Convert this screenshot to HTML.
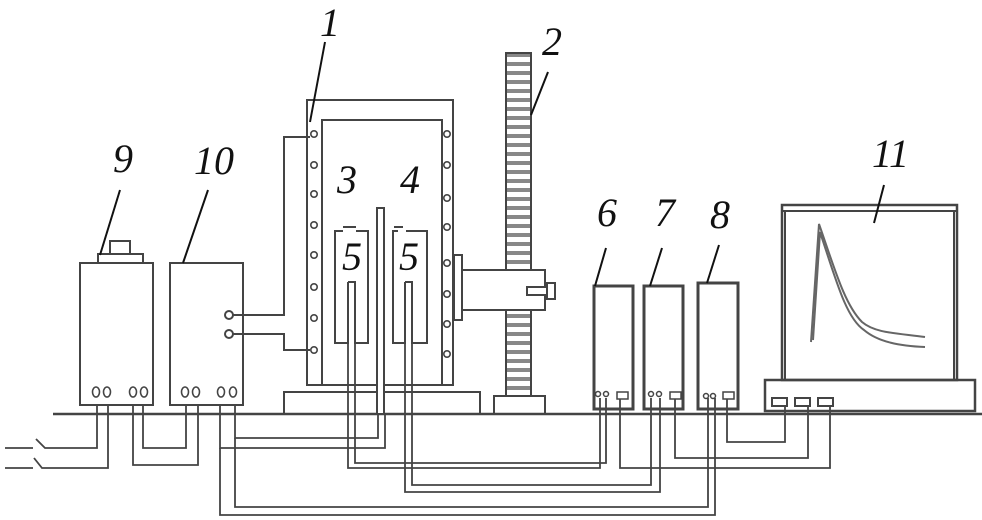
<!DOCTYPE html>
<html><head><meta charset="utf-8"><style>
html,body{margin:0;padding:0;background:#fff;width:982px;height:520px;overflow:hidden}
text{font-family:"Liberation Serif",serif;font-style:italic;font-size:40px;fill:#111}
</style></head><body>
<svg width="982" height="520" viewBox="0 0 982 520" xmlns="http://www.w3.org/2000/svg">
<defs>
<pattern id="rk" x="0" y="53" width="25" height="9" patternUnits="userSpaceOnUse">
<rect width="25" height="9" fill="#fff"/><rect y="0" width="25" height="4" fill="#888"/>
</pattern>
<g id="bolt"><circle r="3.2" fill="#fff" stroke="#444" stroke-width="1.6"/></g>
</defs>
<g fill="none" stroke="#444" stroke-width="2">
<line x1="53" y1="414" x2="982" y2="414" stroke-width="2.5"/>
<rect x="80" y="263" width="73" height="142"/>
<rect x="98" y="254" width="45" height="9"/>
<rect x="110" y="241" width="20" height="13"/>
<rect x="170" y="263" width="73" height="142"/>
<circle cx="229" cy="315" r="4"/><circle cx="229" cy="334" r="4"/>
<g stroke-width="1.6">
<ellipse cx="96" cy="392" rx="3.5" ry="5"/><ellipse cx="107" cy="392" rx="3.5" ry="5"/>
<ellipse cx="133" cy="392" rx="3.5" ry="5"/><ellipse cx="144" cy="392" rx="3.5" ry="5"/>
<ellipse cx="185" cy="392" rx="3.5" ry="5"/><ellipse cx="196" cy="392" rx="3.5" ry="5"/>
<ellipse cx="221" cy="392" rx="3.5" ry="5"/><ellipse cx="233" cy="392" rx="3.5" ry="5"/>
</g>
<polyline points="233,315 284,315 284,137 310,137"/>
<polyline points="233,334 284,334 284,350 310,350"/>
<rect x="307" y="100" width="146" height="285"/>
<rect x="322" y="120" width="120" height="265"/>
<rect x="284" y="392" width="196" height="22"/>
<rect x="377" y="208" width="7" height="206" fill="#fff"/>
<path d="M348,282 V343 H335 V231 H343 M356,231 H368 V343 H355 V282 H348"/>
<line x1="343" y1="227" x2="356" y2="227"/>
<path d="M405,282 V343 H393 V231 H398 M406,231 H427 V343 H412 V282 H405"/>
<line x1="394" y1="227" x2="403" y2="227"/>
<rect x="506" y="53" width="25" height="343" fill="url(#rk)"/>
<rect x="494" y="396" width="51" height="18"/>
<rect x="454" y="255" width="8" height="65" fill="#fff"/>
<rect x="462" y="270" width="83" height="40" fill="#fff"/>
<rect x="527" y="287" width="20" height="8" fill="#fff"/>
<rect x="547" y="283" width="8" height="16" fill="#fff"/>
<rect x="594" y="286" width="39" height="123" stroke-width="3"/>
<rect x="644" y="286" width="39" height="123" stroke-width="3"/>
<rect x="698" y="283" width="40" height="126" stroke-width="3"/>
<g stroke-width="1.5">
<circle cx="598" cy="394" r="2.5"/><circle cx="606" cy="394" r="2.5"/><rect x="617" y="392" width="11" height="7"/>
<circle cx="651" cy="394" r="2.5"/><circle cx="659" cy="394" r="2.5"/><rect x="670" y="392" width="11" height="7"/>
<circle cx="706" cy="396" r="2.5"/><circle cx="713" cy="396" r="2.5"/><rect x="723" y="392" width="11" height="7"/>
</g>
<rect x="782" y="205" width="175" height="175" stroke-width="2.5"/>
<line x1="782" y1="211" x2="957" y2="211"/>
<line x1="785" y1="211" x2="785" y2="380"/><line x1="954" y1="211" x2="954" y2="380"/>
<rect x="765" y="380" width="210" height="31" stroke-width="2.5"/>
<rect x="772" y="398" width="15" height="8"/><rect x="795" y="398" width="15" height="8"/><rect x="818" y="398" width="15" height="8"/>
<path d="M811,342 L819,224 C835,270 845,305 862,322 C875,333 895,333 925,337" stroke="#666"/>
<path d="M813,340 L820,232 C836,280 846,318 864,330 C878,342 900,346 925,347" stroke="#666"/>
<g stroke-width="1.8">
<path d="M5,448 H33 M36,439 L45,448 H97 V405"/>
<path d="M5,468 H33 M34,458 L42,468 H108 V405"/>
<polyline points="133,405 133,465 198,465 198,405"/>
<polyline points="143,405 143,448 186,448 186,405"/>
<polyline points="220,405 220,448 385,448 385,414"/>
<polyline points="235,405 235,438 378,438 378,414"/>
<polyline points="220,448 220,515 715,515 715,398"/>
<polyline points="235,438 235,507 708,507 708,398"/>
<polyline points="348,343 348,468 600,468 600,398"/>
<polyline points="355,343 355,463 606,463 606,398"/>
<polyline points="405,343 405,492 660,492 660,398"/>
<polyline points="412,343 412,485 651,485 651,398"/>
<polyline points="620,399 620,468 830,468 830,406"/>
<polyline points="675,399 675,458 808,458 808,406"/>
<polyline points="727,399 727,442 785,442 785,406"/>
</g>
<g stroke="#111" stroke-width="2">
<line x1="325" y1="42" x2="310" y2="122"/>
<line x1="548" y1="72" x2="531" y2="115"/>
<line x1="120" y1="190" x2="100" y2="255"/>
<line x1="208" y1="190" x2="183" y2="263"/>
<line x1="606" y1="248" x2="595" y2="286"/>
<line x1="662" y1="248" x2="650" y2="286"/>
<line x1="719" y1="245" x2="707" y2="283"/>
<line x1="884" y1="185" x2="874" y2="223"/>
</g>
<g>
<use href="#bolt" x="314" y="134"/><use href="#bolt" x="314" y="165"/><use href="#bolt" x="314" y="194"/><use href="#bolt" x="314" y="225"/><use href="#bolt" x="314" y="255"/><use href="#bolt" x="314" y="287"/><use href="#bolt" x="314" y="318"/><use href="#bolt" x="314" y="350"/>
<use href="#bolt" x="447" y="134"/><use href="#bolt" x="447" y="165"/><use href="#bolt" x="447" y="198"/><use href="#bolt" x="447" y="227"/><use href="#bolt" x="447" y="263"/><use href="#bolt" x="447" y="294"/><use href="#bolt" x="447" y="324"/><use href="#bolt" x="447" y="354"/>
</g>
</g>
<text x="320" y="36">1</text>
<text x="542" y="55">2</text>
<text x="337" y="193">3</text>
<text x="400" y="193">4</text>
<text x="342" y="270">5</text>
<text x="399" y="270">5</text>
<text x="113" y="172">9</text>
<text x="194" y="174">10</text>
<text x="597" y="226">6</text>
<text x="655" y="226">7</text>
<text x="710" y="228">8</text>
<text x="872" y="167">11</text>
</svg>
</body></html>
